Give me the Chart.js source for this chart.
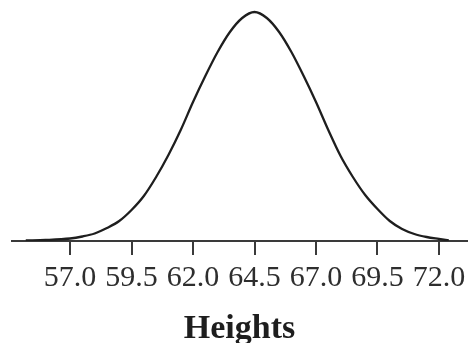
<!DOCTYPE html>
<html>
<head>
<meta charset="utf-8">
<script src="https://cdn.jsdelivr.net/npm/chart.js@4"></script>
<style>
  body { margin: 0; background: #fff; }
  #wrap { width: 475px; height: 343px; }
</style>
</head>
<body>
<div id="wrap"><canvas id="chart" width="475" height="343"></canvas></div>
<script>
// Heights (inches) along the curve, and the curve's height above the axis
const heightValues = [55.2, 56.0, 57.0, 57.5, 58.0, 58.5, 59.0, 59.5, 60.0, 60.5, 61.0, 61.5, 62.0, 62.5, 63.0, 63.5, 64.0, 64.5,
  65.0, 65.5, 66.0, 66.5, 67.0, 67.5, 68.0, 68.5, 69.0, 69.5, 70.0, 70.5, 71.0, 71.5, 72.0, 72.4];
const curveLevels = [0.5, 1, 2.5, 4.5, 7.5, 13, 20, 31, 45, 64, 86, 111, 139, 165, 189, 209, 223, 229,
  223, 209, 189, 165, 139, 111, 85, 64, 46, 32, 20, 12, 7, 4, 2, 0.5];

// Tick labels on the x axis
const tickValues = [57.0, 59.5, 62.0, 64.5, 67.0, 69.5, 72.0];
const axisTitle = "Heights";

const points = heightValues.map((x, i) => ({ x: x, y: curveLevels[i] }));

const ctx = document.getElementById("chart").getContext("2d");
new Chart(ctx, {
  type: "line",
  data: {
    datasets: [
      {
        data: points,
        borderColor: "#1e1e1e",
        borderWidth: 2.3,
        pointRadius: 0,
        fill: false,
        cubicInterpolationMode: "monotone"
      }
    ]
  },
  options: {
    responsive: false,
    animation: false,
    // bottom padding is negative so the title sits low, cut by the edge like the original
    layout: { padding: { left: 12, right: 8, top: 1, bottom: -3 } },
    plugins: { legend: { display: false }, tooltip: { enabled: false } },
    scales: {
      x: {
        type: "linear",
        min: 54.64,
        max: 73.14,
        afterBuildTicks: (axis) => {
          axis.ticks = tickValues.map((v) => ({ value: v }));
        },
        border: { display: true, color: "#3a3a3a", width: 2 },
        grid: {
          drawOnChartArea: false,
          drawTicks: true,
          tickLength: 14,
          color: "#3a3a3a",
          lineWidth: 2
        },
        ticks: {
          autoSkip: false,
          maxRotation: 0,
          padding: 8,
          color: "#2e2e2e",
          font: { family: "Liberation Serif", size: 30, lineHeight: 1 },
          callback: (value) => Number(value).toFixed(1)
        },
        title: {
          display: true,
          text: axisTitle,
          color: "#1e1e1e",
          font: { family: "Liberation Serif", size: 34, weight: "bold", lineHeight: 1 },
          padding: { top: 11, bottom: 0 }
        }
      },
      y: {
        display: false,
        min: 0,
        max: 240
      }
    }
  }
});
</script>
</body>
</html>
